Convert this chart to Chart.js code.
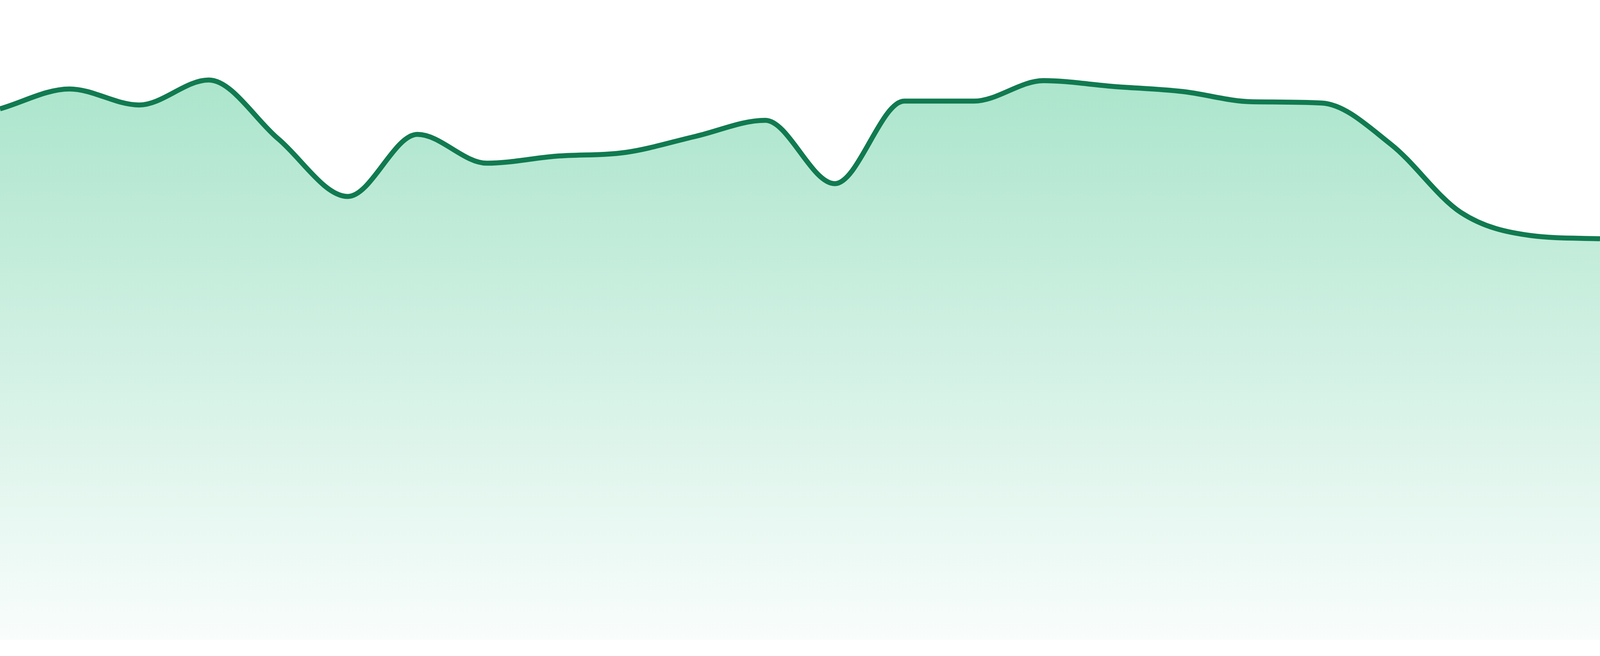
<!DOCTYPE html>
<html>
<head>
<meta charset="utf-8">
<title>Area Trend</title>
<script src="https://cdn.jsdelivr.net/npm/chart.js@4.4.1/dist/chart.umd.min.js"></script>
<style>
    html, body { margin: 0; padding: 0; background: #fff; overflow: hidden; }
    #wrap { position: relative; width: 100vw; height: 100vh; }
</style>
</head>
<body>
<div id="wrap"><canvas id="trendChart"></canvas></div>
<script>
    // 24 samples, no axis text in the picture so labels are just indexes
    const labels = ['1', '2', '3', '4', '5', '6', '7', '8', '9', '10', '11', '12',
                    '13', '14', '15', '16', '17', '18', '19', '20', '21', '22', '23', '24'];
    // values (0 = bottom of plot, 100 = top)
    const values = [83.0, 86.1, 83.6, 87.5, 78.3, 69.3, 79.0, 74.5, 75.6, 76.2, 78.7, 81.2,
                    71.3, 84.2, 84.2, 87.4, 86.5, 85.7, 84.1, 83.9, 77.4, 66.8, 63.2, 62.7];
    const yMin = 0;
    const yMax = 100;

    const lineColor = '#117a50';

    document.addEventListener("DOMContentLoaded", function () {
        // the reference is 4800 px wide; keep line and padding in proportion to the window
        const k = window.innerWidth / 4800;
        let ctx = document.getElementById('trendChart').getContext('2d');

        const config = {
            type: 'line',
            data: {
                labels: labels,
                datasets: [{
                    data: values,
                    borderColor: lineColor,
                    borderWidth: 15 * k,
                    pointRadius: 0,
                    cubicInterpolationMode: 'monotone',
                    fill: 'start',
                    backgroundColor: (c) => {
                        const area = c.chart.chartArea;
                        if (!area) return 'rgba(160,225,197,0.5)';
                        const g = c.chart.ctx.createLinearGradient(0, area.top, 0, area.bottom);
                        g.addColorStop(0, 'rgb(160,225,197)');
                        g.addColorStop(1, 'rgb(249,253,252)');
                        return g;
                    }
                }]
            },
            options: {
                responsive: true,
                maintainAspectRatio: false,
                animation: false,
                layout: { padding: { top: 0, left: 0, right: 0, bottom: 48 * k } },
                plugins: {
                    legend: { display: false },
                    tooltip: { enabled: false }
                },
                scales: {
                    x: { display: false, offset: false },
                    y: { display: false, min: yMin, max: yMax }
                }
            }
        };

        new Chart(ctx, config);
    });
</script>
</body>
</html>
